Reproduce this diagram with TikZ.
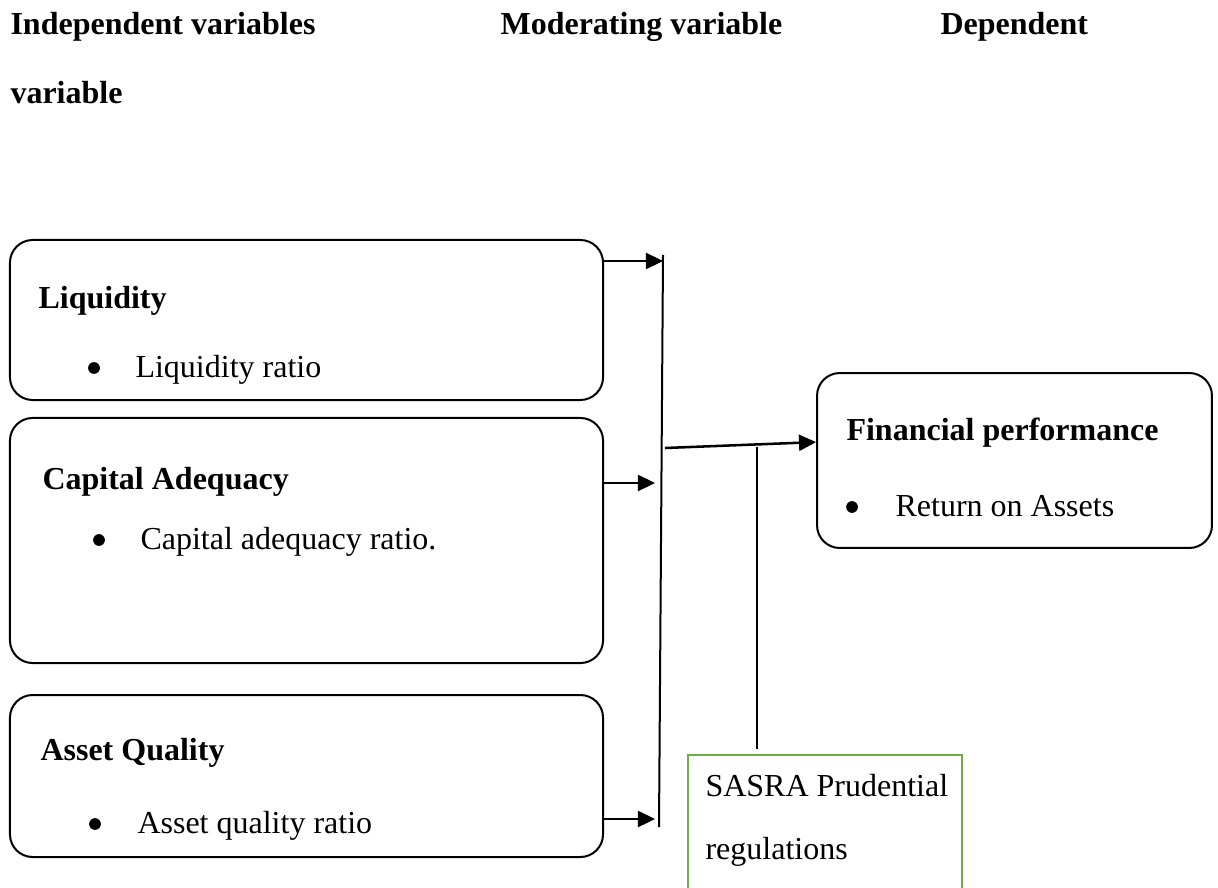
\documentclass[tikz,border=0pt]{standalone}
\usepackage{fontspec}
\setmainfont{Liberation Serif}
\usetikzlibrary{arrows.meta, positioning}

\begin{document}
\begin{tikzpicture}[
    x=0.375pt, y=-0.375pt,
    font=\fontsize{12}{14}\selectfont,
    box/.style={
        rectangle, draw=black, line width=0.75pt, fill=white,
        rounded corners=8.5pt, inner sep=0pt
    },
    regbox/.style={
        rectangle, draw=regGreen, line width=0.8pt, fill=white,
        inner sep=0pt
    },
    txt/.style={anchor=base west, inner sep=0pt},
    boldtxt/.style={txt, font=\fontsize{12}{14}\selectfont\bfseries},
    bullet/.style={circle, fill=black, inner sep=0pt, minimum size=4.4pt},
    arrow/.style={
        -{Triangle[length=6.4pt, width=6pt]}, line width=0.95pt, draw=black
    },
    bar/.style={line width=0.75pt, draw=black},
    link/.style={line width=0.4pt, draw=black}
]
    \definecolor{regGreen}{HTML}{70AD47}
    \useasboundingbox (0,0) rectangle (1218,887);

    % =========================================================================
    % HEADINGS
    % =========================================================================
    \node [boldtxt] (head_indep) at (10, 35) {Independent variables};
    \node [boldtxt] (head_mod) at (500, 35) {Moderating variable};
    \node [boldtxt] (head_dep) at (940, 35) {Dependent};
    \node [boldtxt] (head_dep2) at (10, 104) {variable};

    % =========================================================================
    % INDEPENDENT VARIABLES (LEFT)
    % =========================================================================
    \node [box, minimum width=222.4pt, minimum height=60pt] (liq_box) at (306.5, 320) {};
    \node [boldtxt] (liq_title) at (38, 308) {Liquidity};
    \node [bullet] (liq_dot) at (94, 368) {};
    \node [txt] (liq_item) at (135, 377) {Liquidity ratio};

    \node [box, minimum width=222.4pt, minimum height=91.9pt] (cap_box) at (306.5, 540.5) {};
    \node [boldtxt] (cap_title) at (42, 489) {Capital Adequacy};
    \node [bullet] (cap_dot) at (99, 540) {};
    \node [txt] (cap_item) at (140, 549) {Capital adequacy ratio.};

    \node [box, minimum width=222.4pt, minimum height=60.75pt] (asset_box) at (306.5, 776) {};
    \node [boldtxt] (asset_title) at (40, 760) {Asset Quality};
    \node [bullet] (asset_dot) at (95, 824) {};
    \node [txt] (asset_item) at (137, 833) {Asset quality ratio};

    % =========================================================================
    % DEPENDENT VARIABLE (RIGHT)
    % =========================================================================
    \node [box, minimum width=148.1pt, minimum height=65.6pt] (fin_box) at (1014.5, 460.5) {};
    \node [boldtxt] (fin_title) at (846, 440) {Financial performance};
    \node [bullet] (fin_dot) at (852, 507) {};
    \node [txt] (fin_item) at (895, 516) {Return on Assets};

    % =========================================================================
    % MODERATING VARIABLE (BOTTOM)
    % =========================================================================
    \node [regbox, minimum width=102.75pt, minimum height=54.4pt] (sasra_box) at (825, 827.5) {};
    \node [txt] (sasra_l1) at (705, 796) {SASRA Prudential};
    \node [txt] (sasra_l2) at (705, 859) {regulations};

    % =========================================================================
    % FLOWS
    % =========================================================================
    \coordinate (mod_top) at (663, 255);
    \coordinate (mod_bot) at (659, 827);
    \coordinate (liq_in) at (663, 261);
    \coordinate (cap_in) at (655, 483);
    \coordinate (asset_in) at (655, 819);
    \coordinate (mod_out) at (665, 448);
    \coordinate (reg_link) at (757, 447);

    % Collecting bar
    \draw [bar] (mod_top) -- (mod_bot);

    % Independent variables to bar
    \draw [arrow] (liq_box.east |- liq_in) -- (liq_in);
    \draw [arrow] (cap_box.east |- cap_in) -- (cap_in);
    \draw [arrow] (asset_box.east |- asset_in) -- (asset_in);

    % Bar to Financial performance
    \draw [arrow] (mod_out) -- ([yshift=6.9pt]fin_box.west);

    % Regulations to main flow
    \draw [link, shorten >=1.9pt] (reg_link) -- (reg_link |- sasra_box.north);

\end{tikzpicture}
\end{document}
